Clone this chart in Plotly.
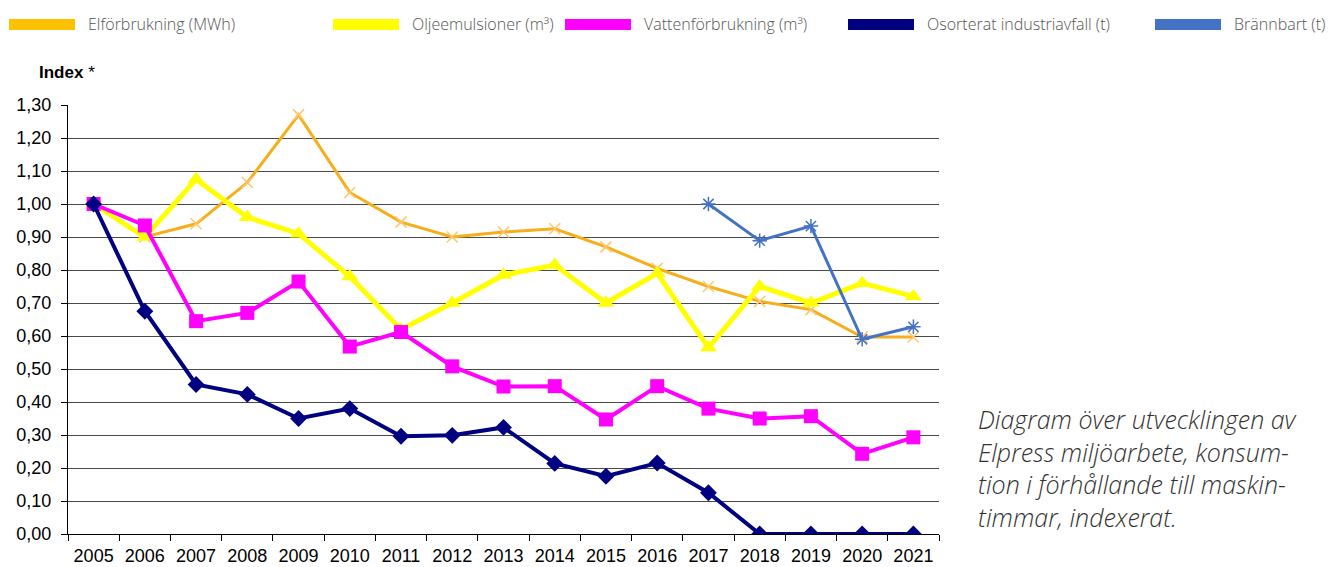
import plotly.graph_objects as go

years = [str(y) for y in range(2005, 2022)]
names = ["Elförbrukning (MWh)", "Oljeemulsioner (m³)", "Vattenförbrukning (m³)",
         "Osorterat industriavfall (t)", "Brännbart (t)"]
el = [1.00, 0.90, 0.94, 1.065, 1.27, 1.035, 0.945, 0.90, 0.915, 0.925, 0.87, 0.805, 0.75, 0.705, 0.68, 0.597, 0.597]
olja = [1.00, 0.90, 1.075, 0.96, 0.91, 0.78, 0.62, 0.70, 0.785, 0.815, 0.70, 0.79, 0.565, 0.75, 0.70, 0.76, 0.72]
vatten = [1.00, 0.935, 0.645, 0.67, 0.765, 0.568, 0.612, 0.508, 0.447, 0.448, 0.347, 0.448, 0.38, 0.35, 0.357, 0.243, 0.293]
avfall = [1.00, 0.675, 0.453, 0.423, 0.35, 0.38, 0.296, 0.299, 0.323, 0.214, 0.175, 0.215, 0.125, 0.0, 0.0, 0.0, 0.0]
brann = [None] * 12 + [1.00, 0.889, 0.933, 0.59, 0.628]
ytick_vals = [i / 10 for i in range(14)]
ytick_text = [f"{v:.2f}".replace(".", ",") for v in ytick_vals]
grid_vals = [i / 10 for i in range(1, 13)]

colors = ["#FFB300", "#FFFF00", "#FF00FF", "#000080", "#4472C4"]
legend_colors = ["#FFC000", "#FFFF00", "#FF00FF", "#000080", "#4472C4"]

fig = go.Figure()
# invisible trace on gridline axis
fig.add_trace(go.Scatter(x=years, y=[None] * len(years), yaxis="y2", showlegend=False, hoverinfo="skip"))

fig.add_trace(go.Scatter(x=years, y=el, mode="lines+markers", name=names[0],
                         line=dict(color="#F7AE1A", width=3),
                         marker=dict(symbol="x-thin-open", size=11, color="#FFC76A",
                                     line=dict(width=1.5, color="#FFC76A"))))
fig.add_trace(go.Scatter(x=years, y=olja, mode="lines+markers", name=names[1],
                         line=dict(color=colors[1], width=5),
                         marker=dict(symbol="triangle-up", size=15, color=colors[1])))
fig.add_trace(go.Scatter(x=years, y=vatten, mode="lines+markers", name=names[2],
                         line=dict(color=colors[2], width=4),
                         marker=dict(symbol="square", size=14, color=colors[2])))
fig.add_trace(go.Scatter(x=years, y=avfall, mode="lines+markers", name=names[3],
                         line=dict(color=colors[3], width=4),
                         marker=dict(symbol="diamond", size=13, color=colors[3])))
fig.add_trace(go.Scatter(x=years, y=brann, mode="lines+markers", name=names[4],
                         line=dict(color=colors[4], width=3), connectgaps=False,
                         marker=dict(symbol="asterisk-open", size=12,
                                     line=dict(width=1.5, color="#6A90D8"))))

shapes = []
annotations = []
legend_x = [9, 333, 565, 848, 1155]
for i, nm in enumerate(names):
    x0 = legend_x[i]
    shapes.append(dict(type="rect", xref="paper", yref="paper",
                       x0=(x0 - 68) / 871, x1=(x0 + 66 - 68) / 871,
                       y0=(534 - 30) / 429, y1=(534 - 19) / 429,
                       fillcolor=legend_colors[i], line=dict(width=0), layer="above"))
    annotations.append(dict(xref="paper", yref="paper", x=(x0 + 77 - 68) / 871,
                            y=(534 - 24) / 429, xanchor="left", yanchor="middle",
                            text=nm, showarrow=False,
                            font=dict(family="Open Sans", size=16, color="#555555", weight=300)))

annotations.append(dict(xref="paper", yref="paper", x=(37 - 68) / 871, y=(534 - 72) / 429,
                        xanchor="left", yanchor="middle", showarrow=False,
                        text="<b>Index</b> *",
                        font=dict(family="Liberation Sans", size=17, color="#000000")))
annotations.append(dict(xref="paper", yref="paper", x=(976 - 68) / 871, y=(534 - 468) / 429,
                        xanchor="left", yanchor="middle", align="left", showarrow=False,
                        text="<i>Diagram över utvecklingen av<br>Elpress miljöarbete, konsum-<br>"
                             "tion i förhållande till maskin-<br>timmar, indexerat.</i>",
                        font=dict(family="Open Sans", size=25, color="#333333", weight=300)))

fig.update_layout(
    width=1330, height=567,
    margin=dict(l=68, r=391, t=105, b=33),
    paper_bgcolor="white", plot_bgcolor="white",
    showlegend=False,
    shapes=shapes, annotations=annotations,
    xaxis=dict(type="category", tickson="boundaries", ticks="outside", ticklen=6,
               tickcolor="#000", showline=True, linecolor="#000", linewidth=1,
               showgrid=False, automargin=False, ticklabelstandoff=5,
               tickfont=dict(family="Liberation Sans", size=18, color="#000"),
               range=[-0.5, 16.5]),
    yaxis=dict(range=[0, 1.30], tickvals=ytick_vals, ticktext=ytick_text, ticks="outside",
               ticklen=6, tickcolor="#000", showline=True, linecolor="#000", linewidth=1,
               showgrid=False, zeroline=False, automargin=False, ticklabelstandoff=6,
               tickfont=dict(family="Liberation Sans", size=18, color="#000")),
    yaxis2=dict(range=[0, 1.30], overlaying="y", tickvals=grid_vals, showticklabels=False,
                showgrid=True, gridcolor="#4a4a4a", gridwidth=1, zeroline=False,
                automargin=False, layer="below traces"),
)

fig.write_html("out.html", config={"displayModeBar": False},
               post_script="document.body.style.margin='0';document.body.style.overflow='hidden';")
